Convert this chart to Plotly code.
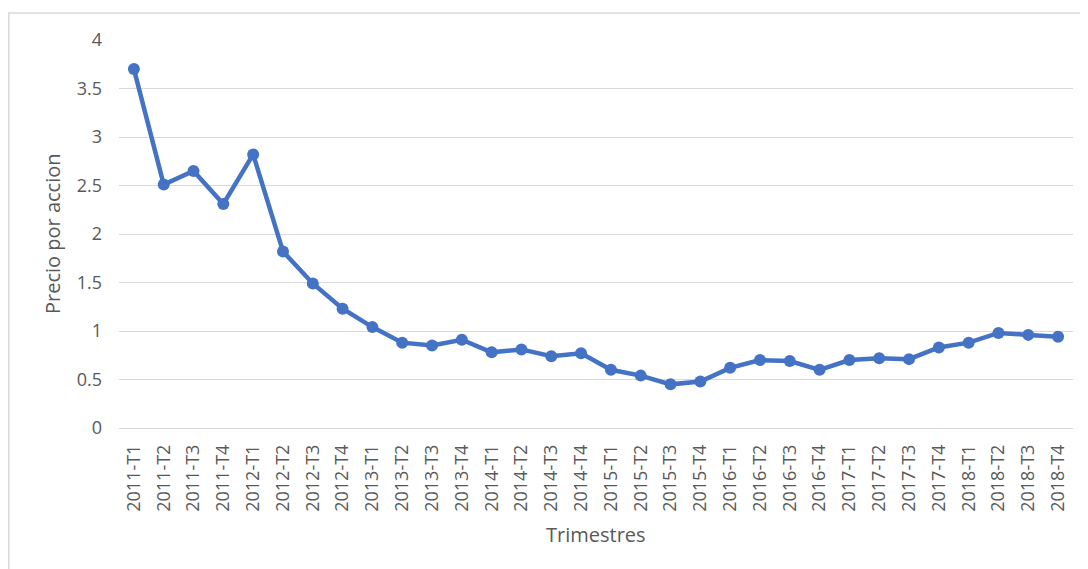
import plotly.graph_objects as go

quarters = [f"{y}-T{q}" for y in range(2011, 2019) for q in range(1, 5)]
precio = [3.70, 2.51, 2.65, 2.31, 2.82, 1.82, 1.49, 1.23,
          1.04, 0.88, 0.85, 0.91, 0.78, 0.81, 0.74, 0.77,
          0.60, 0.54, 0.45, 0.48, 0.62, 0.70, 0.69, 0.60,
          0.70, 0.72, 0.71, 0.83, 0.88, 0.98, 0.96, 0.94]
y_ticks = [0, 0.5, 1, 1.5, 2, 2.5, 3, 3.5, 4]
y_labels = ["0", "0.5", "1", "1.5", "2", "2.5", "3", "3.5", "4"]
x_title = "Trimestres"
y_title = "Precio por accion"

fig = go.Figure()
fig.add_trace(go.Scatter(
    x=quarters, y=precio, mode="lines+markers",
    line=dict(color="#4472C4", width=4.5),
    marker=dict(color="#4472C4", size=12),
    showlegend=False,
))

font = "Open Sans, Liberation Sans, sans-serif"
grey = "#595959"
fig.update_layout(
    width=1080, height=561,
    margin=dict(l=111, r=15, t=32, b=141),
    paper_bgcolor="white", plot_bgcolor="white",
    font=dict(family=font, color=grey, size=18),
    xaxis=dict(
        type="category", range=[-0.5, len(quarters) - 0.5],
        tickangle=-90, showgrid=False, zeroline=False,
        showline=False, ticks="", automargin=False, ticklabelstandoff=12,
        tickfont=dict(size=18, color=grey),
    ),
    yaxis=dict(
        range=[0, 4], tickvals=y_ticks, ticktext=y_labels,
        showgrid=True, gridcolor="#D9D9D9", gridwidth=1,
        zeroline=True, zerolinecolor="#D9D9D9", zerolinewidth=1,
        showline=False, ticks="", automargin=False, ticklabelstandoff=16,
        tickfont=dict(size=18, color=grey),
    ),
    annotations=[
        dict(text=x_title, xref="paper", yref="paper", x=0.5, y=(428 - 534) / 388,
             showarrow=False, xanchor="center", yanchor="middle",
             font=dict(size=20, color=grey)),
        dict(text=y_title, xref="paper", yref="paper", x=(52 - 119) / 954, y=0.5,
             showarrow=False, xanchor="center", yanchor="middle", textangle=-90,
             font=dict(size=20, color=grey)),
    ],
    shapes=[dict(
        type="rect", xref="paper", yref="paper",
        x0=(0.8 - 111) / 954, x1=1.1, y0=-1.0, y1=(428 - 13) / 388,
        line=dict(color="#D9D9D9", width=1.5), fillcolor="rgba(0,0,0,0)", layer="below",
    )],
)

fig.write_html("out.html")
